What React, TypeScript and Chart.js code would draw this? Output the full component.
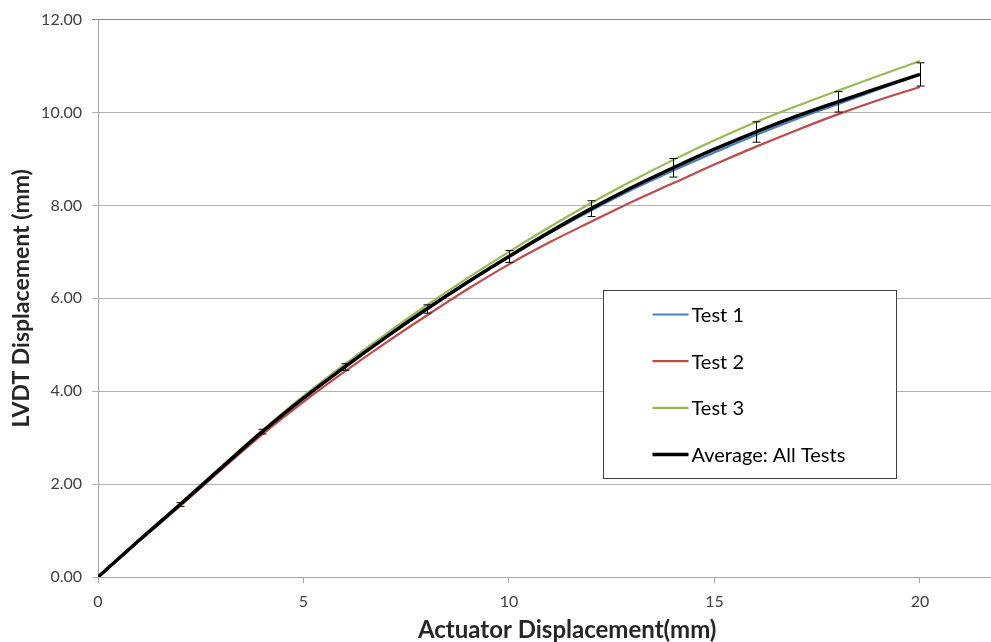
import React, { useEffect, useRef } from "react";
import { Chart, registerables } from "chart.js";

Chart.register(...registerables);

const xValues = [0, 1, 2, 3, 4, 5, 6, 7, 8, 9, 10, 11, 12, 13, 14, 15, 16, 17, 18, 19, 20];
const test1 = [0, 0.79, 1.56, 2.35, 3.13, 3.85, 4.52, 5.16, 5.77, 6.35, 6.9, 7.41, 7.89, 8.34, 8.75, 9.14, 9.51, 9.86, 10.18, 10.5, 10.82];
const test2 = [0, 0.77, 1.53, 2.31, 3.07, 3.77, 4.42, 5.04, 5.63, 6.2, 6.73, 7.21, 7.65, 8.08, 8.48, 8.88, 9.26, 9.62, 9.96, 10.27, 10.55];
const test3 = [0, 0.8, 1.58, 2.38, 3.16, 3.9, 4.58, 5.23, 5.85, 6.44, 7.0, 7.54, 8.05, 8.53, 8.98, 9.4, 9.79, 10.14, 10.47, 10.79, 11.11];
const average = [0, 0.79, 1.56, 2.35, 3.13, 3.85, 4.52, 5.16, 5.77, 6.35, 6.9, 7.43, 7.93, 8.39, 8.81, 9.21, 9.58, 9.92, 10.23, 10.53, 10.82];

const errorX = [2, 4, 6, 8, 10, 12, 14, 16, 18, 20];
const errorAvg = [1.56, 3.13, 4.52, 5.77, 6.9, 7.93, 8.81, 9.58, 10.23, 10.82];
const errorAmount = [0.04, 0.05, 0.07, 0.09, 0.13, 0.17, 0.2, 0.22, 0.22, 0.25];

const xTicks = [0, 5, 10, 15, 20];
const yTicks = [0, 2, 4, 6, 8, 10, 12];

const seriesNames = ["Test 1", "Test 2", "Test 3", "Average: All Tests"];
const seriesColors = ["#4A7EBB", "#BE4B48", "#98B954", "#000000"];
const seriesWidths = [2.2, 2.2, 2.2, 3.5];

const xTitle = "Actuator Displacement(mm)";
const yTitle = "LVDT Displacement (mm)";

const FONT = "Lato, 'Noto Sans', sans-serif";

const toPoints = (ys: number[]) => xValues.map((x, i) => ({ x, y: ys[i] }));

const errorBarPlugin = {
  id: "errorBars",
  afterDatasetsDraw(chart: any) {
    const { ctx, scales } = chart;
    const xs = scales.x;
    const ys = scales.y;
    ctx.save();
    ctx.strokeStyle = "#000000";
    ctx.lineWidth = 1;
    errorX.forEach((x, i) => {
      const px = Math.round(xs.getPixelForValue(x)) + 0.5;
      const top = ys.getPixelForValue(errorAvg[i] + errorAmount[i]);
      const bot = ys.getPixelForValue(errorAvg[i] - errorAmount[i]);
      ctx.beginPath();
      ctx.moveTo(px, top);
      ctx.lineTo(px, bot);
      ctx.moveTo(px - 4, top);
      ctx.lineTo(px + 4, top);
      ctx.moveTo(px - 4, bot);
      ctx.lineTo(px + 4, bot);
      ctx.stroke();
    });
    ctx.restore();
  },
};

const legendPlugin = {
  id: "boxLegend",
  afterDraw(chart: any) {
    const { ctx, chartArea } = chart;
    const w = chartArea.right - chartArea.left;
    const h = chartArea.bottom - chartArea.top;
    const bx = Math.round(chartArea.left + w * 0.5655) + 0.5;
    const by = Math.round(chartArea.top + h * 0.4857) + 0.5;
    const bw = 293;
    const bh = 188;
    ctx.save();
    ctx.fillStyle = "#ffffff";
    ctx.fillRect(bx, by, bw, bh);
    ctx.strokeStyle = "#404040";
    ctx.lineWidth = 1;
    ctx.strokeRect(bx, by, bw, bh);
    ctx.font = `20px ${FONT}`;
    ctx.textBaseline = "middle";
    ctx.textAlign = "left";
    seriesNames.forEach((name, i) => {
      const cy = by + 24 + i * 46.7;
      ctx.strokeStyle = seriesColors[i];
      ctx.lineWidth = seriesWidths[i];
      ctx.beginPath();
      ctx.moveTo(bx + 49, cy);
      ctx.lineTo(bx + 85, cy);
      ctx.stroke();
      ctx.fillStyle = "#000000";
      ctx.fillText(name, bx + 88, cy + 1);
    });
    // x axis title (centred as in the original, wider plot)
    ctx.font = `bold 24px ${FONT}`;
    ctx.fillStyle = "#262626";
    ctx.textAlign = "center";
    ctx.textBaseline = "middle";
    ctx.fillText(xTitle, chartArea.left + w * 0.5254, chart.height - 12);
    ctx.restore();
  },
};

export default function App() {
  const canvasRef = useRef<HTMLCanvasElement | null>(null);

  useEffect(() => {
    document.body.style.margin = "0";
    const canvas = canvasRef.current;
    if (!canvas) return;
    const seriesData = [test1, test2, test3, average];
    const datasets = [3, 2, 0, 1].map((idx) => ({
      label: seriesNames[idx],
      data: toPoints(seriesData[idx]),
      borderColor: seriesColors[idx],
      backgroundColor: seriesColors[idx],
      borderWidth: seriesWidths[idx],
      pointRadius: 0,
      cubicInterpolationMode: "monotone" as const,
      fill: false,
    }));
    const chart = new Chart(canvas, {
      type: "line",
      data: { datasets },
      options: {
        animation: false,
        responsive: false,
        layout: { padding: { top: 17, right: 0, left: 0, bottom: 0 } },
        plugins: { legend: { display: false }, tooltip: { enabled: false } },
        scales: {
          x: {
            type: "linear",
            min: 0,
            max: 21.73,
            afterBuildTicks(scale: any) {
              scale.ticks = xTicks.map((v) => ({ value: v }));
            },
            afterFit(scale: any) {
              scale.height = 65;
            },
            border: { display: true, color: "#a6a6a6", width: 1 },
            grid: {
              display: true,
              drawOnChartArea: false,
              drawTicks: true,
              tickLength: 6,
              color: "#a6a6a6",
            },
            ticks: {
              padding: 9,
              color: "#404040",
              font: { family: FONT, size: 16 },
              maxRotation: 0,
              callback: (v: any) => String(v),
            },
            title: { display: false },
          },
          y: {
            type: "linear",
            min: 0,
            max: 12,
            afterBuildTicks(scale: any) {
              scale.ticks = yTicks.map((v) => ({ value: v }));
            },
            afterFit(scale: any) {
              scale.width = 98;
            },
            border: { display: true, color: "#a6a6a6", width: 1 },
            grid: {
              display: true,
              drawTicks: true,
              tickLength: 6,
              color: (c: any) => (c.tick && c.tick.value === 12 ? "#868686" : "#b3b3b3"),
            },
            ticks: {
              padding: 10,
              color: "#404040",
              font: { family: FONT, size: 16 },
              callback: (v: any) => Number(v).toFixed(2),
            },
            title: {
              display: true,
              text: yTitle,
              color: "#262626",
              font: { family: FONT, size: 23, weight: "bold", lineHeight: 1 },
              padding: { top: 10, bottom: 0 },
            },
          },
        },
      },
      plugins: [errorBarPlugin, legendPlugin],
    });
    return () => chart.destroy();
  }, []);

  return (
    <div style={{ width: 991, height: 642, background: "#ffffff" }}>
      <canvas ref={canvasRef} width={991} height={642} style={{ display: "block" }} />
    </div>
  );
}
